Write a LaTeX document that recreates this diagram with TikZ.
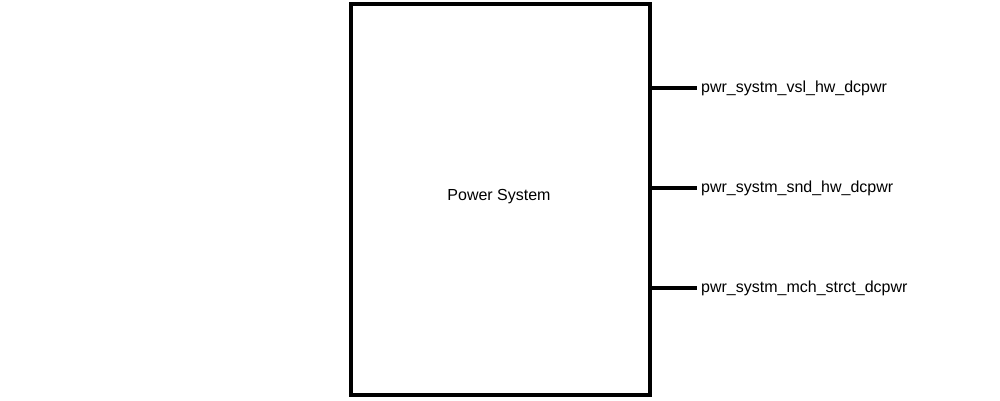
\documentclass[tikz,border=0pt]{standalone}
\usepackage{fontspec}
\setmainfont{Liberation Sans}
\usetikzlibrary{positioning}

\begin{document}
\begin{tikzpicture}[
  x = 1pt, y = -1pt,
  every node/.style = {font=\fontsize{16}{18}\selectfont},
  block/.style = {rectangle, draw=black, line width=4pt, inner sep=0pt,
                  minimum width=299pt, minimum height=391pt},
  pin/.style   = {draw=black, line width=4pt},
  sig/.style   = {anchor=west, inner sep=0pt, xshift=4pt}
]
\useasboundingbox (0,0) rectangle (1000,400);

% ---- block -------------------------------------------------------------
\node[block, at={(500.5,199.5)}] (sys) {};
\node[at={(499,197)}] (title) {Power System};

% ---- output pins -------------------------------------------------------
\coordinate (p1a) at (sys.east |- 0,88);
\coordinate (p2a) at (sys.east |- 0,188);
\coordinate (p3a) at (sys.east |- 0,288);
\coordinate (p1b) at ([xshift=45pt]p1a);
\coordinate (p2b) at ([xshift=45pt]p2a);
\coordinate (p3b) at ([xshift=45pt]p3a);

\draw[pin] (p1a) -- (p1b);
\draw[pin] (p2a) -- (p2b);
\draw[pin] (p3a) -- (p3b);

\node[sig, at={(p1b)}] (s1) {pwr\_systm\_vsl\_hw\_dcpwr};
\node[sig, at={(p2b)}] (s2) {pwr\_systm\_snd\_hw\_dcpwr};
\node[sig, at={(p3b)}] (s3) {pwr\_systm\_mch\_strct\_dcpwr};

\end{tikzpicture}
\end{document}
